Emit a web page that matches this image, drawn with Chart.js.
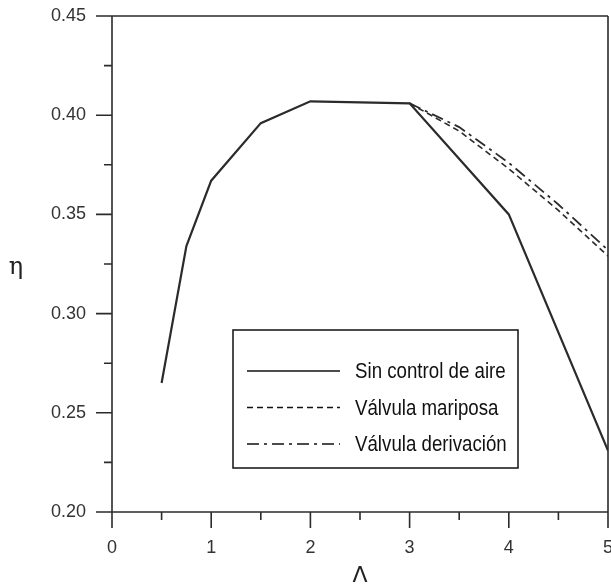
<!DOCTYPE html>
<html>
<head>
<meta charset="utf-8">
<script src="https://cdn.jsdelivr.net/npm/chart.js@4/dist/chart.umd.min.js"></script>
<style>
  html, body { margin: 0; padding: 0; background: #fff; }
  canvas { display: block; }
</style>
</head>
<body>
<canvas id="chart" width="611" height="587"></canvas>
<script>
// data
const lambdaSin = [0.5, 0.75, 1.0, 1.5, 2.0, 3.0, 4.0, 5.0];
const etaSin = [0.265, 0.334, 0.367, 0.396, 0.407, 0.406, 0.350, 0.231];
const lambdaValv = [3.0, 3.5, 4.0, 4.5, 5.0];
const etaMariposa = [0.406, 0.392, 0.373, 0.352, 0.329];
const etaDerivacion = [0.406, 0.394, 0.376, 0.355, 0.332];
const seriesNames = ["Sin control de aire", "Válvula mariposa", "Válvula derivación"];
const xMajor = [0, 1, 2, 3, 4, 5];
const yMajor = [0.20, 0.25, 0.30, 0.35, 0.40, 0.45];

const ink = "#2b2b2b";
const toPoints = (xs, ys) => xs.map((x, i) => ({ x: x, y: ys[i] }));

// frame, outward ticks, upright eta and the boxed legend
const framePlugin = {
  id: "frame",
  afterDatasetsDraw(chart) {
    const { ctx, chartArea: a, scales } = chart;
    const xs = scales.x, ys = scales.y;
    ctx.save();
    ctx.strokeStyle = ink;
    ctx.lineWidth = 1.6;
    ctx.beginPath();
    ctx.moveTo(a.left, a.top); ctx.lineTo(a.right, a.top);
    ctx.moveTo(a.left, a.top); ctx.lineTo(a.left, a.bottom);
    ctx.moveTo(a.left, a.bottom); ctx.lineTo(a.right, a.bottom);
    ctx.moveTo(a.right, a.top); ctx.lineTo(a.right, a.bottom);
    for (let v = 0.20; v <= 0.4501; v += 0.025) {
      const py = ys.getPixelForValue(v);
      const major = yMajor.some(m => Math.abs(m - v) < 1e-6);
      ctx.moveTo(a.left - (major ? 16 : 8), py); ctx.lineTo(a.left, py);
    }
    for (let v = 0; v <= 5.001; v += 0.5) {
      const px = xs.getPixelForValue(v);
      const major = xMajor.some(m => Math.abs(m - v) < 1e-6);
      ctx.moveTo(px, a.bottom); ctx.lineTo(px, a.bottom + (major ? 16 : 8));
    }
    ctx.stroke();

    // y axis title, upright
    ctx.fillStyle = "#222";
    ctx.font = "24px 'DejaVu Serif', serif";
    ctx.textAlign = "center";
    ctx.textBaseline = "middle";
    ctx.fillText("η", 16, (a.top + a.bottom) / 2 + 4);

    // legend box
    const bx = a.left + 121, by = a.top + 314, bw = 285, bh = 138;
    ctx.fillStyle = "#fff";
    ctx.fillRect(bx, by, bw, bh);
    ctx.strokeStyle = "#111";
    ctx.lineWidth = 1.5;
    ctx.strokeRect(bx, by, bw, bh);
    ctx.textAlign = "left";
    ctx.textBaseline = "alphabetic";
    chart.data.datasets.forEach((ds, i) => {
      const ly = by + 41 + i * 36.5;
      ctx.beginPath();
      ctx.setLineDash(ds.borderDash || []);
      ctx.lineWidth = 1.4;
      ctx.strokeStyle = "#111";
      ctx.moveTo(bx + 14, ly); ctx.lineTo(bx + 107, ly);
      ctx.stroke();
      ctx.setLineDash([]);
      ctx.save();
      ctx.translate(bx + 122, ly + 7);
      ctx.scale(0.85, 1);
      ctx.fillStyle = "#111";
      ctx.font = "22px 'Liberation Sans', Arial, sans-serif";
      ctx.fillText(ds.label, 0, 0);
      ctx.restore();
    });
    ctx.restore();
  }
};

new Chart(document.getElementById("chart"), {
  type: "line",
  data: {
    datasets: [
      {
        label: seriesNames[0],
        data: toPoints(lambdaSin, etaSin),
        borderColor: ink,
        borderWidth: 2.2,
        pointRadius: 0,
        tension: 0
      },
      {
        label: seriesNames[1],
        data: toPoints(lambdaValv, etaMariposa),
        borderColor: ink,
        borderWidth: 1.6,
        borderDash: [6, 4],
        pointRadius: 0,
        tension: 0
      },
      {
        label: seriesNames[2],
        data: toPoints(lambdaValv, etaDerivacion),
        borderColor: ink,
        borderWidth: 1.8,
        borderDash: [12, 5, 3, 5],
        pointRadius: 0,
        tension: 0
      }
    ]
  },
  options: {
    responsive: false,
    animation: false,
    devicePixelRatio: 1,
    layout: { padding: { left: 0, top: 16, right: 3, bottom: 0 } },
    plugins: { legend: { display: false }, tooltip: { enabled: false } },
    scales: {
      x: {
        type: "linear",
        min: 0,
        max: 5,
        grid: { display: false, drawTicks: false },
        border: { display: false },
        afterBuildTicks: s => { s.ticks = xMajor.map(v => ({ value: v })); },
        ticks: {
          padding: 25,
          color: "#333",
          maxRotation: 0,
          font: { family: "'Liberation Sans', Arial, sans-serif", size: 18 },
          callback: v => String(v)
        },
        title: {
          display: true,
          text: "Λ",
          color: "#222",
          padding: { top: 0, bottom: -2 },
          font: { family: "'DejaVu Sans', sans-serif", size: 22 }
        },
        afterFit: s => {
          s.height = 75;
          s.paddingLeft = 0; s.paddingRight = 0;
        }
      },
      y: {
        min: 0.20,
        max: 0.45,
        grid: { display: false, drawTicks: false },
        border: { display: false },
        afterBuildTicks: s => { s.ticks = yMajor.map(v => ({ value: v })); },
        ticks: {
          padding: 26,
          color: "#333",
          font: { family: "'Liberation Sans', Arial, sans-serif", size: 18 },
          callback: v => v.toFixed(2)
        },
        afterFit: s => {
          s.width = 112;
          s.paddingTop = 0; s.paddingBottom = 0;
        }
      }
    }
  },
  plugins: [framePlugin]
});
</script>
</body>
</html>
